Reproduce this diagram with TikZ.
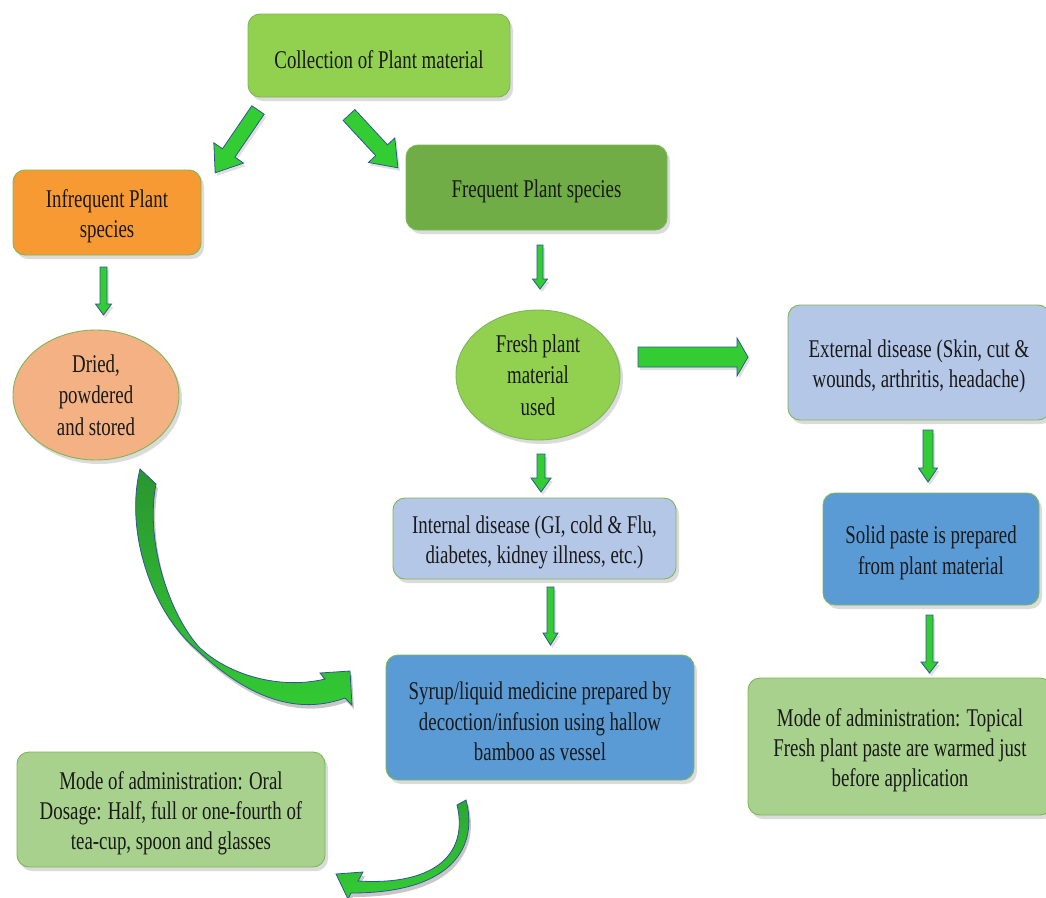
\documentclass[tikz,border=0pt]{standalone}
\usepackage{fontspec}
\setmainfont{Liberation Serif}[FakeStretch=0.74]
\usetikzlibrary{shapes.geometric,shadows}
\definecolor{cLime}{HTML}{92D050}
\definecolor{cOrange}{HTML}{F79A33}
\definecolor{cGreen}{HTML}{70AD47}
\definecolor{cSalmon}{HTML}{F4B183}
\definecolor{cLBlue}{HTML}{B4C7E7}
\definecolor{cMBlue}{HTML}{5B9BD5}
\definecolor{cPale}{HTML}{A9D18E}
\definecolor{cEdge}{HTML}{7DB756}
\definecolor{cArrow}{HTML}{33CC33}
\definecolor{cArrowDark}{HTML}{2A9630}
\definecolor{cArrowEdge}{HTML}{2F5597}
\newcommand\fl{\rule{0pt}{25.5pt}}
\tikzset{
  shad/.style={drop shadow={opacity=0.28,shadow xshift=3pt,shadow yshift=-4pt}},
  box/.style={rectangle,rounded corners=12pt,draw=cEdge,line width=0.9pt,
    align=center,inner sep=2pt,text=black!90,shad,
    font=\fontsize{25.5}{30.3}\selectfont},
  oval/.style={ellipse,draw=cEdge,line width=0.9pt,align=center,inner sep=0pt,
    text=black!90,shad,font=\fontsize{25.5}{31.5}\selectfont},
  blockarrow/.style={fill=cArrow,draw=cArrowEdge,line width=0.8pt,line join=miter,
    drop shadow={opacity=0.25,shadow xshift=2pt,shadow yshift=-3pt}},
}
% x y angle length shafthalf headhalf headlen
\newcommand\barrow[7]{%
  \draw[blockarrow,shift={(#1,#2)},rotate=#3]
    (0,-#5) -- (#4-#7,-#5) -- (#4-#7,-#6) -- (#4,0) -- (#4-#7,#6) -- (#4-#7,#5) -- (0,#5) -- cycle;}
\begin{document}
\begin{tikzpicture}[x=1pt,y=-1pt]
\path[use as bounding box] (0,0) rectangle (1046,897);
\clip (0,0) rectangle (1046,897);
\fill[white] (0,0) rectangle (1046,897);

% boxes
\node[box,fill=cLime,minimum width=262pt,minimum height=83pt] (coll) at (379,55.5) {\fl Collection of Plant material};
\node[box,fill=cOrange,minimum width=188pt,minimum height=85pt] (infreq) at (107,212.5) {\fl Infrequent Plant\\species};
\node[box,fill=cGreen,minimum width=261pt,minimum height=85pt] (freq) at (536.5,187.5) {\fl Frequent Plant species};
\node[oval,fill=cSalmon,minimum width=166pt,minimum height=130pt] (dried) at (96,395) {Dried,\\powdered\\and stored};
\node[oval,fill=cLime,minimum width=164pt,minimum height=130pt] (fresh) at (538,375) {Fresh plant\\material\\used};
\node[box,fill=cLBlue,minimum width=262pt,minimum height=115pt] (ext) at (919,362.5) {\fl External disease (Skin, cut \&\\wounds, arthritis, headache)};
\node[box,fill=cLBlue,minimum width=283pt,minimum height=81pt] (int) at (534.5,538.5) {\fl Internal disease (GI, cold \& Flu,\\diabetes, kidney illness, etc.)};
\node[box,fill=cMBlue,minimum width=216pt,minimum height=112pt] (solid) at (931,549) {\fl Solid paste is prepared\\from plant material};
\node[box,fill=cMBlue,minimum width=308pt,minimum height=125pt] (syrup) at (540,717.5) {\fl Syrup/liquid medicine prepared by\\decoction/infusion using hallow\\bamboo as vessel};
\node[box,fill=cPale,minimum width=308pt,minimum height=115pt] (oral) at (171,809.5) {\fl Mode of administration: Oral\\Dosage: Half, full or one-fourth of\\tea-cup, spoon and glasses};
\node[box,fill=cPale,minimum width=304pt,minimum height=137pt] (topical) at (900,746.5) {\fl Mode of administration: Topical\\Fresh plant paste are warmed just\\before application};

% straight block arrows
\barrow{258}{110}{-124.3}{76}{7.5}{18}{24}
\barrow{349}{115}{-47.2}{72}{8}{18}{24}
\barrow{103.5}{267}{-90}{48}{3.5}{8}{11}
\barrow{540}{245}{-90}{44}{3}{7.5}{10}
\barrow{541}{454}{-90}{38}{4}{10}{14}
\barrow{550.5}{587}{-90}{58}{3.5}{7.5}{12}
\barrow{638}{357}{0}{110}{10}{19}{11}
\barrow{928}{430}{-90}{52}{5}{9.5}{14}
\barrow{929.5}{615}{-90}{58}{3.5}{8.5}{11}

% curved arrow: dried -> syrup
\fill[black,opacity=0.22,shift={(2,4)}]
  (140,469) .. controls (125,530) and (150,610) .. (197,650)
  .. controls (240,690) and (290,718) .. (345,698)
  -- (352,705) -- (350,671) -- (320,673) -- (325,679)
  .. controls (280,690) and (228,675) .. (199,647)
  .. controls (168,612) and (145,540) .. (156,484) -- cycle;
\draw[cArrowEdge,line width=0.8pt,top color=cArrowDark,bottom color=cArrow,line join=miter]
  (140,469) .. controls (125,530) and (150,610) .. (197,650)
  .. controls (240,690) and (290,718) .. (345,698)
  -- (352,705) -- (350,671) -- (320,673) -- (325,679)
  .. controls (280,690) and (228,675) .. (199,647)
  .. controls (168,612) and (145,540) .. (156,484) -- cycle;

% curved arrow: syrup -> oral
\fill[black,opacity=0.22,shift={(2,4)}]
  (466,800) .. controls (478,845) and (455,893) .. (351,893)
  -- (348,899) -- (336,874) -- (363,872) -- (358,881)
  .. controls (440,886) and (468,850) .. (457,805) -- cycle;
\draw[cArrowEdge,line width=0.8pt,top color=cArrowDark!70!cArrow,bottom color=cArrow,line join=miter]
  (466,800) .. controls (478,845) and (455,893) .. (351,893)
  -- (348,899) -- (336,874) -- (363,872) -- (358,881)
  .. controls (440,886) and (468,850) .. (457,805) -- cycle;
\end{tikzpicture}
\end{document}
